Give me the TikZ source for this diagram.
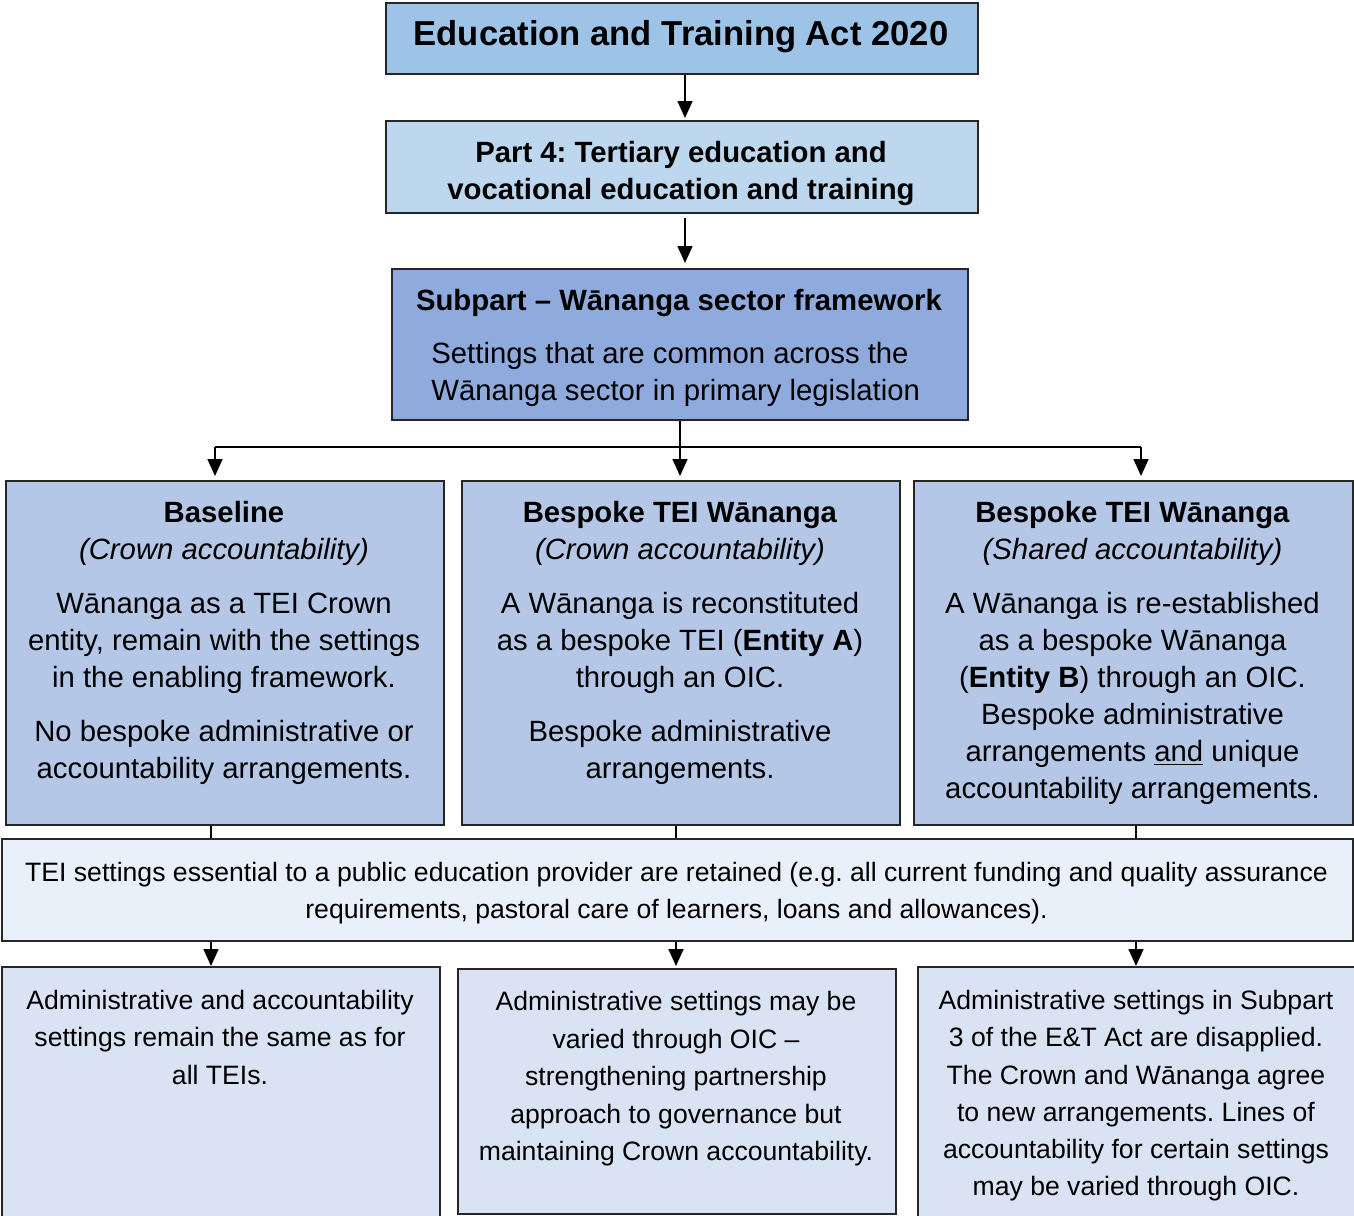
\documentclass[tikz,border=0pt]{standalone}
\usepackage{fontspec}
\setmainfont{Liberation Sans}
\usetikzlibrary{arrows.meta}
\frenchspacing
\definecolor{cAct}{HTML}{9DC3E6}
\definecolor{cPart}{HTML}{BDD7EE}
\definecolor{cSub}{HTML}{8FAADC}
\definecolor{cMid}{HTML}{B4C7E7}
\definecolor{cLow}{HTML}{E8F0F9}
\definecolor{cBot}{HTML}{DAE3F3}
\begin{document}
\begin{tikzpicture}[x=0.5pt,y=-0.5pt,
  box/.style={draw=black!85, line width=1pt, inner sep=0pt, anchor=north west},
  arr/.style={line width=0.8pt, -{Triangle[length=8.5pt,width=7.5pt]}},
  ln/.style={line width=0.8pt},
  fb/.style={font=\fontsize{14.65pt}{18.5pt}\selectfont\frenchspacing},
  fbb/.style={font=\fontsize{14.65pt}{18.5pt}\selectfont\bfseries\frenchspacing},
  fs/.style={font=\fontsize{13.3pt}{18.6pt}\selectfont\frenchspacing},
  txt/.style={inner sep=0pt, align=center, anchor=north}]
\useasboundingbox (0,0) rectangle (1354,1215);
\begin{scope}
\clip (0,0) rectangle (1354,1215);
% boxes
\node[box, fill=cAct, minimum width=296pt, minimum height=35.5pt] (act) at (385,2) {};
\node[box, fill=cPart, minimum width=296pt, minimum height=46pt] (part) at (385,120) {};
\node[box, fill=cSub, minimum width=288pt, minimum height=75.5pt] (sub) at (391,268) {};
\node[box, fill=cMid, minimum width=219pt, minimum height=172pt] (b1) at (5,480) {};
\node[box, fill=cMid, minimum width=219pt, minimum height=172pt] (b2) at (461,480) {};
\node[box, fill=cMid, minimum width=219.5pt, minimum height=172pt] (b3) at (913,480) {};
\node[box, fill=cLow, minimum width=675.5pt, minimum height=51pt] (mid) at (1,838) {};
\node[box, fill=cBot, minimum width=219pt, minimum height=137pt] (c1) at (1,966) {};
\node[box, fill=cBot, minimum width=219pt, minimum height=122.5pt] (c2) at (457,968) {};
\node[box, fill=cBot, minimum width=221.5pt, minimum height=137pt] (c3) at (917,966) {};
\end{scope}
% texts
\node[inner sep=0pt, anchor=base, font=\fontsize{17.3pt}{21pt}\selectfont\bfseries] (tact) at (681,45.5) {Education and Training Act 2020};
\node[txt, fbb] (tpart) at (681,141) {Part 4: Tertiary education and\\vocational education and training};
\node[txt, fbb] (tsubh) at (679,289) {Subpart -- Wānanga sector framework};
\node[txt, fb, align=left, anchor=north west] (tsub) at (431,342) {Settings that are common across the\\Wānanga sector in primary legislation};
\node[txt, fb] (tb1) at (224,501) {\textbf{Baseline}\\\textit{(Crown accountability)}\\[8.5pt]Wānanga as a TEI Crown\\entity, remain with the settings\\in the enabling framework.\\[8.5pt]No bespoke administrative or\\accountability arrangements.};
\node[txt, fb] (tb2) at (680,501) {\textbf{Bespoke TEI Wānanga}\\\textit{(Crown accountability)}\\[8.5pt]A Wānanga is reconstituted\\as a bespoke TEI (\textbf{Entity A})\\through an OIC.\\[8.5pt]Bespoke administrative\\arrangements.};
\node[txt, fb] (tb3) at (1132.5,501) {\textbf{Bespoke TEI Wānanga}\\\textit{(Shared accountability)}\\[8.5pt]A Wānanga is re-established\\as a bespoke Wānanga\\(\textbf{Entity B}) through an OIC.\\Bespoke administrative\\arrangements \underline{and} unique\\accountability arrangements.};
\node[txt, fs] (tmid) at (676.5,862) {TEI settings essential to a public education provider are retained (e.g. all current funding and quality assurance\\requirements, pastoral care of learners, loans and allowances).};
\node[txt, fs] (tc1) at (220,990) {Administrative and accountability\\settings remain the same as for\\all TEIs.};
\node[txt, fs, font=\fontsize{13.3pt}{18.75pt}\selectfont] (tc2) at (676,991) {Administrative settings may be\\varied through OIC --\\strengthening partnership\\approach to governance but\\maintaining Crown accountability.};
\node[txt, fs] (tc3) at (1136,990) {Administrative settings in Subpart\\3 of the E\&T Act are disapplied.\\The Crown and Wānanga agree\\to new arrangements. Lines of\\accountability for certain settings\\may be varied through OIC.};
% connectors
\coordinate (a0) at (685,0);
\coordinate (s0) at (680,0);
\coordinate (jl) at (215,447);
\coordinate (jr) at (1141,447);
\coordinate (k1) at (211,0);
\coordinate (k2) at (676,0);
\coordinate (k3) at (1136,0);
\draw[arr] (act.south -| a0) -- ([yshift=1pt]part.north -| a0);
\draw[arr] ([yshift=-2pt]part.south -| a0) -- ([yshift=2.5pt]sub.north -| a0);
\draw[arr] (sub.south -| s0) -- ([yshift=2pt]b2.north -| s0);
\draw[ln] (jl) -- (jr);
\draw[arr] (jl) -- ([yshift=2pt]b1.north -| jl);
\draw[arr] (jr) -- ([yshift=2pt]b3.north -| jr);
\draw[ln] (b1.south -| k1) -- (mid.north -| k1);
\draw[ln] (b2.south -| k2) -- (mid.north -| k2);
\draw[ln] (b3.south -| k3) -- (mid.north -| k3);
\draw[arr] (mid.south -| k1) -- (c1.north -| k1);
\draw[arr] (mid.south -| k2) -- ([yshift=1pt]c2.north -| k2);
\draw[arr] (mid.south -| k3) -- (c3.north -| k3);
\end{tikzpicture}
\end{document}
